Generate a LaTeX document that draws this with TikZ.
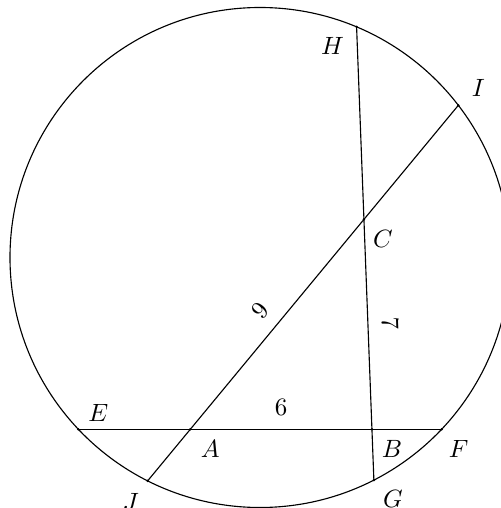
\documentclass[tikz,border=0pt]{standalone}
\usetikzlibrary{calc}
\begin{document}
\begin{tikzpicture}[x=0.4pt,y=0.4pt,
  chord/.style={line width=0.45pt},
  ptdot/.style={fill=black},
  lbl/.style={inner sep=0pt}]
\useasboundingbox (0,0) rectangle (501,508);
\clip (0,0) rectangle (501,508);
\coordinate (O) at (260,250.5);
\coordinate (H) at ($(O)+(67.27:250)$);
\coordinate (I) at ($(O)+(37.5:250)$);
\coordinate (E) at ($(O)+(223.4:250)$);
\coordinate (F) at ($(O)+(-43.4:250)$);
\coordinate (J) at ($(O)+(243.3:250)$);
\coordinate (G) at ($(O)+(-62.9:250)$);
\coordinate (C) at (intersection of H--G and I--J);
\coordinate (A) at (intersection of E--F and I--J);
\coordinate (B) at (intersection of E--F and H--G);
\draw[chord] (O) circle [radius=100pt];
\draw[chord] (H) -- (G);
\draw[chord] (I) -- (J);
\draw[chord] (E) -- (F);
\foreach \p in {H,I,C,E,A,B,F,J,G}{\fill[ptdot] (\p) circle (0.55pt);}
\node[lbl] (lH) at ($(H)+(-24,-19)$) {$H$};
\node[lbl] (lI) at ($(I)+(20,17)$) {$I$};
\node[lbl] (lC) at ($(C)+(19,-20)$) {$C$};
\node[lbl] (lE) at ($(E)+(20,16)$) {$E$};
\node[lbl] (lA) at ($(A)+(20,-20)$) {$A$};
\node[lbl] (lB) at ($(B)+(20,-20)$) {$B$};
\node[lbl] (lF) at ($(F)+(17,-20)$) {$F$};
\node[lbl] (lJ) at ($(J)+(-17,-21)$) {$J$};
\node[lbl] (lG) at ($(G)+(19,-19)$) {$G$};
\path (A) -- (B) node[midway, above=5.5pt, inner sep=0pt] (l6) {$6$};
\path (A) -- (C) node[midway, sloped, above=5.5pt, inner sep=0pt] (l9) {$9$};
\path (C) -- (B) node[midway, sloped, above=5.5pt, inner sep=0pt] (l7) {$7$};
\end{tikzpicture}
\end{document}
